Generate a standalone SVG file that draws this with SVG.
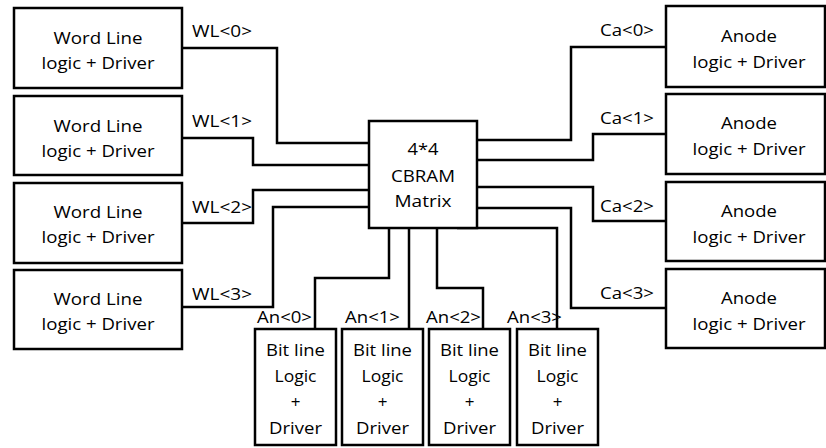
<svg xmlns="http://www.w3.org/2000/svg" width="826" height="448" viewBox="0 0 826 448">
<style>
rect.b{fill:#fff;stroke:#000;stroke-width:2.5}
text{font-family:"Open Sans","Liberation Sans",sans-serif;font-size:17px;fill:#000}
.m{text-anchor:middle}
#connectors polyline{fill:none;stroke:#000;stroke-width:2.5;stroke-linejoin:miter}
</style>
<rect width="826" height="448" fill="#fff"/>
<g id="connectors">
<polyline points="182,48 277,48 277,143 369,143"/>
<polyline points="182,138 253,138 253,165 369,165"/>
<polyline points="182,223 253,223 253,190 369,190"/>
<polyline points="181,307 273,307 273,207 369,207"/>
<polyline points="666,47 571,47 571,140 477,140"/>
<polyline points="666,134 593,134 593,160 477,160"/>
<polyline points="477,187 593,187 593,221 666,221"/>
<polyline points="477,208 571,208 571,308 666,308"/>
<polyline points="389,228 389,278 315,278 315,329"/>
<polyline points="409,228 409,329"/>
<polyline points="437,228 437,288 483,288 483,329"/>
<polyline points="457,228 557,228 557,329"/>
<text x="192" y="37" textLength="60" lengthAdjust="spacingAndGlyphs">WL&lt;0&gt;</text>
<text x="192" y="127" textLength="60" lengthAdjust="spacingAndGlyphs">WL&lt;1&gt;</text>
<text x="192" y="213" textLength="60" lengthAdjust="spacingAndGlyphs">WL&lt;2&gt;</text>
<text x="192" y="300" textLength="60" lengthAdjust="spacingAndGlyphs">WL&lt;3&gt;</text>
<text x="600" y="35.5" textLength="54" lengthAdjust="spacingAndGlyphs">Ca&lt;0&gt;</text>
<text x="600" y="124" textLength="54" lengthAdjust="spacingAndGlyphs">Ca&lt;1&gt;</text>
<text x="600" y="211.5" textLength="54" lengthAdjust="spacingAndGlyphs">Ca&lt;2&gt;</text>
<text x="600" y="299" textLength="54" lengthAdjust="spacingAndGlyphs">Ca&lt;3&gt;</text>
<text x="257" y="323" textLength="55" lengthAdjust="spacingAndGlyphs">An&lt;0&gt;</text>
<text x="345" y="323" textLength="55" lengthAdjust="spacingAndGlyphs">An&lt;1&gt;</text>
<text x="426" y="323" textLength="55" lengthAdjust="spacingAndGlyphs">An&lt;2&gt;</text>
<text x="507" y="323" textLength="55" lengthAdjust="spacingAndGlyphs">An&lt;3&gt;</text>
</g>
<g id="wl0"><rect class="b" x="14" y="8" width="168" height="80"/>
<text class="m" x="98" y="43.5" textLength="89" lengthAdjust="spacingAndGlyphs">Word Line</text>
<text class="m" x="98" y="68.5" textLength="113" lengthAdjust="spacingAndGlyphs">logic + Driver</text></g>
<g id="wl1"><rect class="b" x="14" y="96" width="168" height="79"/>
<text class="m" x="98" y="131.5" textLength="89" lengthAdjust="spacingAndGlyphs">Word Line</text>
<text class="m" x="98" y="156.5" textLength="113" lengthAdjust="spacingAndGlyphs">logic + Driver</text></g>
<g id="wl2"><rect class="b" x="14" y="183" width="168" height="80"/>
<text class="m" x="98" y="218" textLength="89" lengthAdjust="spacingAndGlyphs">Word Line</text>
<text class="m" x="98" y="243" textLength="113" lengthAdjust="spacingAndGlyphs">logic + Driver</text></g>
<g id="wl3"><rect class="b" x="14" y="270" width="168" height="79"/>
<text class="m" x="98" y="305" textLength="89" lengthAdjust="spacingAndGlyphs">Word Line</text>
<text class="m" x="98" y="330" textLength="113" lengthAdjust="spacingAndGlyphs">logic + Driver</text></g>
<g id="an0"><rect class="b" x="666" y="6" width="159" height="81"/>
<text class="m" x="749" y="42" textLength="56" lengthAdjust="spacingAndGlyphs">Anode</text>
<text class="m" x="749" y="68" textLength="113" lengthAdjust="spacingAndGlyphs">logic + Driver</text></g>
<g id="an1"><rect class="b" x="666" y="94" width="159" height="80"/>
<text class="m" x="749" y="129" textLength="56" lengthAdjust="spacingAndGlyphs">Anode</text>
<text class="m" x="749" y="155" textLength="113" lengthAdjust="spacingAndGlyphs">logic + Driver</text></g>
<g id="an2"><rect class="b" x="666" y="182" width="159" height="79"/>
<text class="m" x="749" y="217" textLength="56" lengthAdjust="spacingAndGlyphs">Anode</text>
<text class="m" x="749" y="243" textLength="113" lengthAdjust="spacingAndGlyphs">logic + Driver</text></g>
<g id="an3"><rect class="b" x="666" y="269" width="159" height="79"/>
<text class="m" x="749" y="304" textLength="56" lengthAdjust="spacingAndGlyphs">Anode</text>
<text class="m" x="749" y="330" textLength="113" lengthAdjust="spacingAndGlyphs">logic + Driver</text></g>
<g id="matrix"><rect class="b" x="369" y="121" width="108" height="107"/>
<text class="m" x="423" y="155" textLength="31" lengthAdjust="spacingAndGlyphs">4*4</text>
<text class="m" x="423" y="181.5" textLength="64" lengthAdjust="spacingAndGlyphs">CBRAM</text>
<text class="m" x="423" y="207" textLength="57" lengthAdjust="spacingAndGlyphs">Matrix</text></g>
<g id="bl0"><rect class="b" x="255" y="329" width="81" height="116"/>
<text class="m" x="295.5" y="356" textLength="59" lengthAdjust="spacingAndGlyphs">Bit line</text>
<text class="m" x="295.5" y="382" textLength="42" lengthAdjust="spacingAndGlyphs">Logic</text>
<text class="m" x="295.5" y="408">+</text>
<text class="m" x="295.5" y="434" textLength="53" lengthAdjust="spacingAndGlyphs">Driver</text></g>
<g id="bl1"><rect class="b" x="342" y="329" width="81" height="116"/>
<text class="m" x="382.5" y="356" textLength="59" lengthAdjust="spacingAndGlyphs">Bit line</text>
<text class="m" x="382.5" y="382" textLength="42" lengthAdjust="spacingAndGlyphs">Logic</text>
<text class="m" x="382.5" y="408">+</text>
<text class="m" x="382.5" y="434" textLength="53" lengthAdjust="spacingAndGlyphs">Driver</text></g>
<g id="bl2"><rect class="b" x="429" y="329" width="81" height="116"/>
<text class="m" x="469.5" y="356" textLength="59" lengthAdjust="spacingAndGlyphs">Bit line</text>
<text class="m" x="469.5" y="382" textLength="42" lengthAdjust="spacingAndGlyphs">Logic</text>
<text class="m" x="469.5" y="408">+</text>
<text class="m" x="469.5" y="434" textLength="53" lengthAdjust="spacingAndGlyphs">Driver</text></g>
<g id="bl3"><rect class="b" x="517" y="329" width="81" height="116"/>
<text class="m" x="557.5" y="356" textLength="59" lengthAdjust="spacingAndGlyphs">Bit line</text>
<text class="m" x="557.5" y="382" textLength="42" lengthAdjust="spacingAndGlyphs">Logic</text>
<text class="m" x="557.5" y="408">+</text>
<text class="m" x="557.5" y="434" textLength="53" lengthAdjust="spacingAndGlyphs">Driver</text></g>
</svg>
